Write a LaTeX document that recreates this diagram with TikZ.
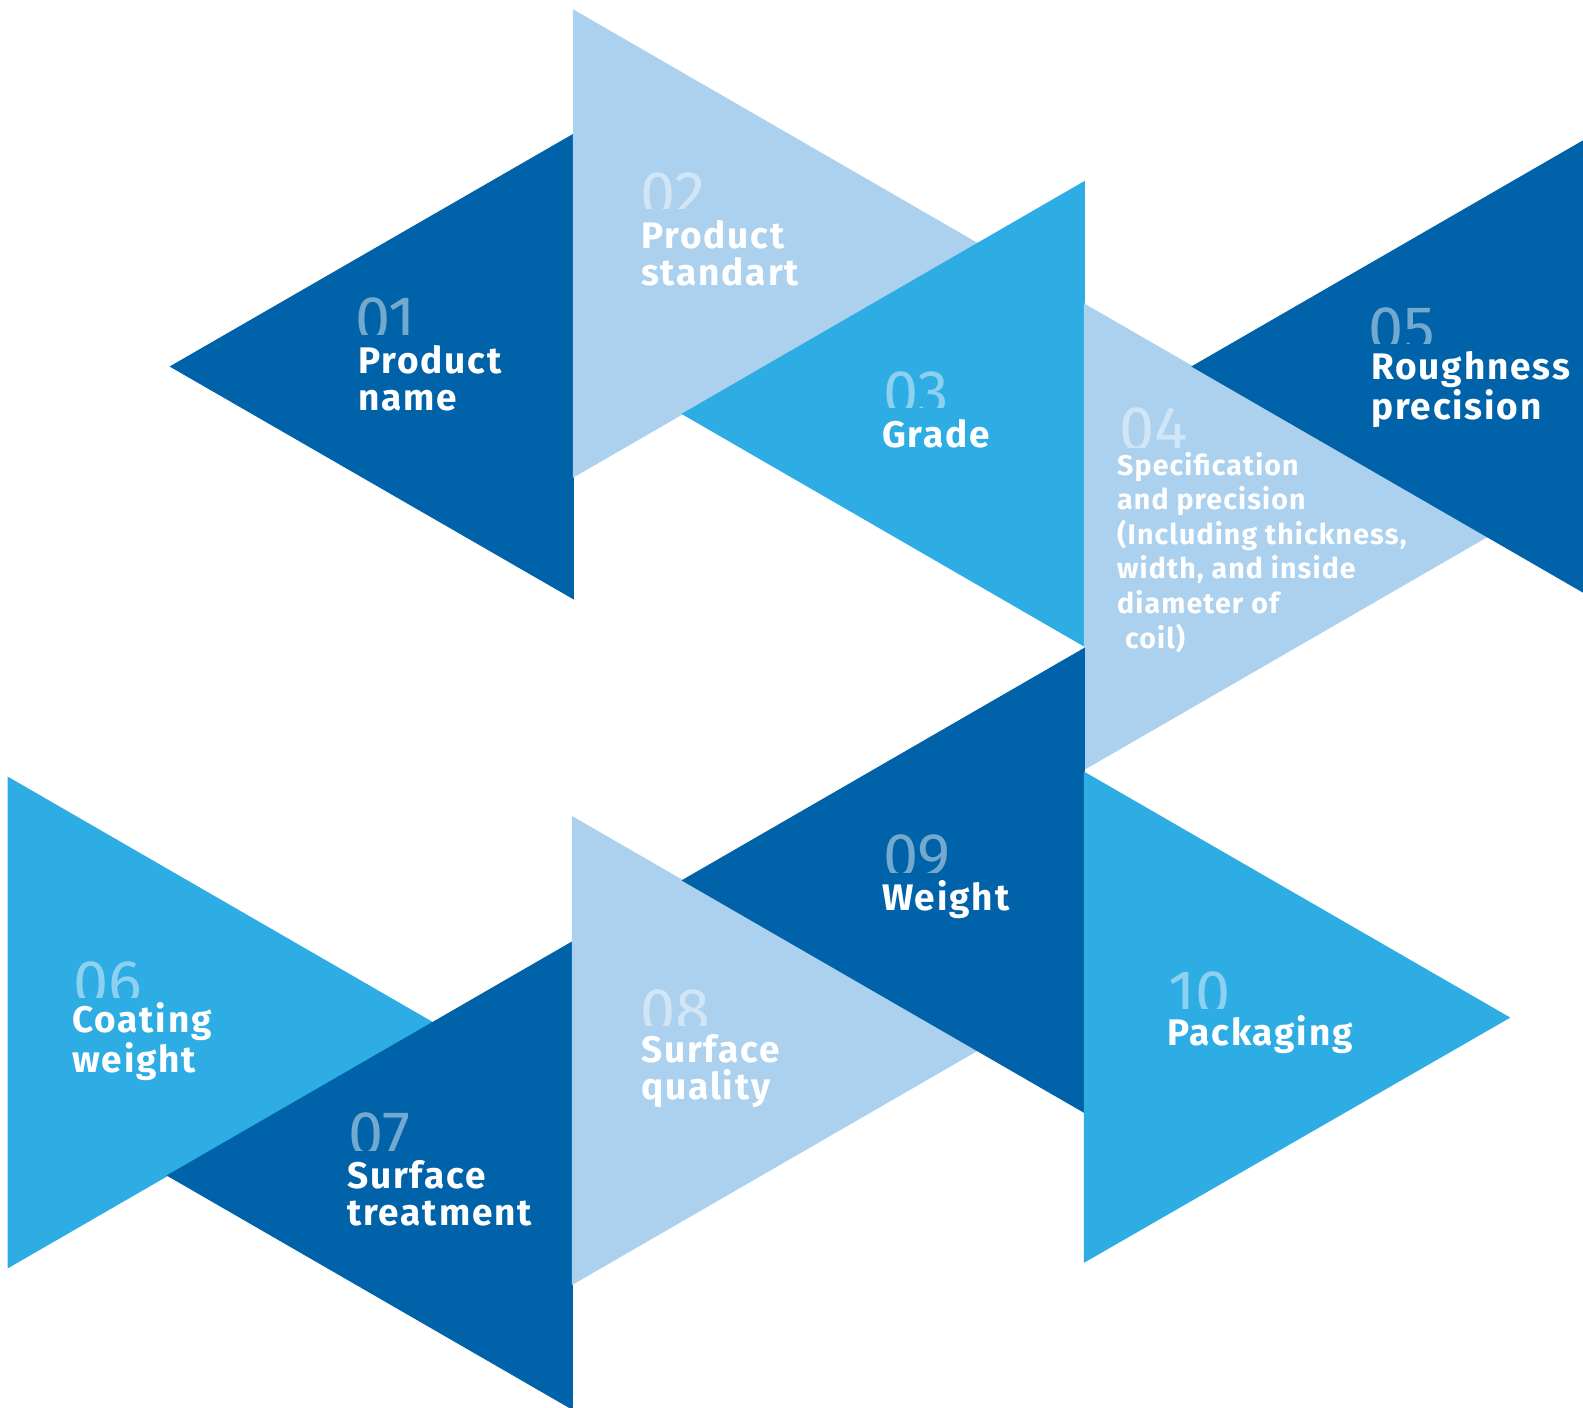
\documentclass[tikz,border=0pt]{standalone}
\usepackage{fontspec}
\setmainfont{Fira Sans}
\newfontfamily\numfont{Fira Sans}
\newfontfamily\stepfont[LetterSpace=5]{Fira Sans}
\newfontfamily\specfont[LetterSpace=4]{Fira Sans}
\definecolor{stepdark}{HTML}{0062A8}
\definecolor{steplight}{HTML}{ABD1EF}
\definecolor{stepmid}{HTML}{2EACE4}
\tikzstyle{darktri}=[fill=stepdark,draw=stepdark,line width=1pt]
\tikzstyle{lighttri}=[fill=steplight,draw=steplight,line width=1pt]
\tikzstyle{midtri}=[fill=stepmid,draw=stepmid,line width=1pt]
\tikzstyle{stepnum}=[text=white,text opacity=0.45,inner sep=0pt,anchor=north west,
    font=\numfont\fontsize{63}{63}\selectfont]
\tikzstyle{steptext}=[text=white,inner sep=0pt,anchor=base west,align=left,
    font=\stepfont\bfseries\fontsize{37}{37}\selectfont]
\tikzstyle{smalltext}=[steptext,font=\specfont\bfseries\fontsize{28.5}{34.6}\selectfont]
% number cut off just above its label
\newcommand\stepnumber[5]{%
  \begin{scope}
    \clip (#2-10,#3-10) rectangle (#2+120,#4);
    \node[stepnum] (#1) at (#2,#3) {#5};
  \end{scope}}

\begin{document}
\begin{tikzpicture}[x=1pt,y=-1pt]
    \useasboundingbox (0,0) rectangle (1583,1408);
    \clip (0,0) rectangle (1583,1408);
    % upper row
    \fill[darktri] (170.6,366.5) -- (573.4,134.3) -- (573.4,598.7) -- cycle;
    \fill[lighttri] (573.4,10.1) -- (977.6,243.5) -- (573.4,476.9) -- cycle;
    \fill[midtri] (1084.3,181.7) -- (1084.3,646.1) -- (682.5,413.9) -- cycle;
    \fill[lighttri] (1084.3,304.1) -- (1487.1,536.7) -- (1084.3,769.3) -- cycle;
    \fill[darktri] (1192.3,366.5) -- (1594.5,134.3) -- (1594.5,598.7) -- cycle;
    % lower row
    \fill[midtri] (8.1,777.4) -- (432.6,1022.5) -- (8.1,1267.6) -- cycle;
    \fill[darktri] (572.4,941.8) -- (572.4,1409.2) -- (167.6,1175.5) -- cycle;
    \fill[lighttri] (572.4,816.8) -- (977.1,1050.5) -- (572.4,1284.2) -- cycle;
    \fill[darktri] (1084.3,648.4) -- (1084.3,1112.4) -- (682.5,880.4) -- cycle;
    \fill[midtri] (1084.3,772.3) -- (1509.3,1017.6) -- (1084.3,1262) -- cycle;

    \stepnumber{num01}{355}{298}{334}{01}
    \stepnumber{num02}{640}{173}{208}{02}
    \stepnumber{num03}{883}{372}{407}{03}
    \stepnumber{num04}{1119}{408}{447}{04}
    \stepnumber{num05}{1368}{308}{343}{05}
    \stepnumber{num06}{73}{962}{997}{06}
    \stepnumber{num07}{348}{1113}{1150}{07}
    \stepnumber{num08}{640}{990}{1025}{08}
    \stepnumber{num09}{883}{835}{872}{09}
    \stepnumber{num10}{1168}{972}{1008}{10}

    % labels sit on the baseline of their last line
    \node[steptext] (name) at (358,410) {Product\\name};
    \node[steptext] (standart) at (641,285) {Product\\standart};
    \node[steptext] (grade) at (882,447) {Grade};
    \node[smalltext] (spec) at (1117,648) {Specification\\and precision\\(Including thickness,\\width, and inside\\diameter of\\\ coil)};
    \node[steptext] (rough) at (1371,419) {Roughness\\precision};
    \node[steptext] (coating) at (72,1072) {Coating\\weight};
    \node[steptext] (treat) at (347,1225) {Surface\\treatment};
    \node[steptext] (quality) at (641,1099) {Surface\\quality};
    \node[steptext] (weight) at (882,910) {Weight};
    \node[steptext] (pack) at (1167,1045) {Packaging};
\end{tikzpicture}
\end{document}
